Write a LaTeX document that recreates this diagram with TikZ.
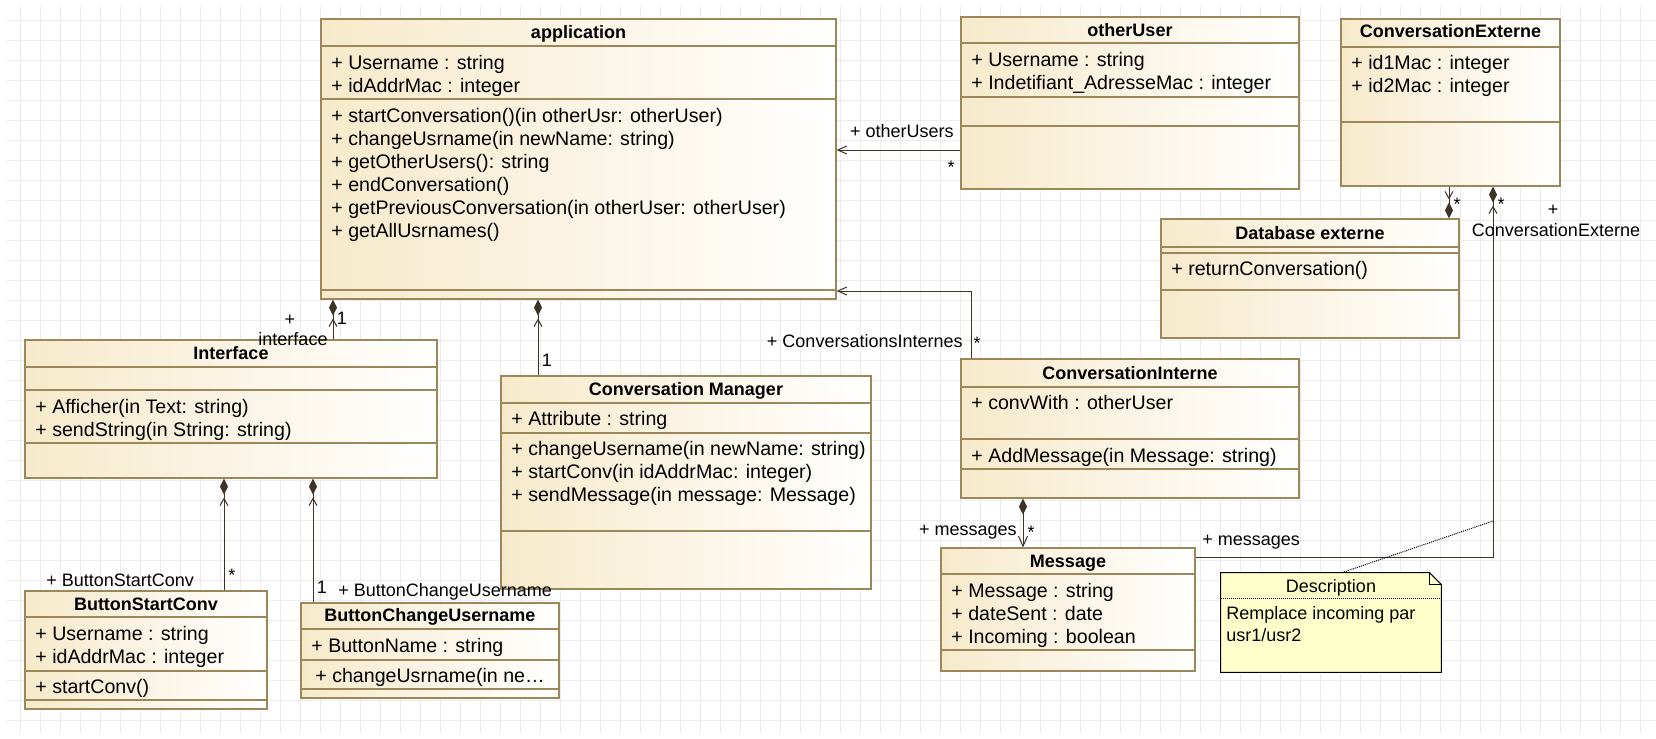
\documentclass[tikz,border=0pt]{standalone}
\usepackage{fontspec}
\setmainfont{Liberation Sans}
\usetikzlibrary{arrows.meta,fit}

\definecolor{clsfill}{HTML}{F7EACB}
\definecolor{clsline}{HTML}{9B8759}
\definecolor{linkcol}{HTML}{3D3427}
\definecolor{gridcol}{HTML}{ECECEC}
\definecolor{notefill}{HTML}{FFFFCC}

\newcommand{\memberfont}{\fontsize{9.8}{11.5}\selectfont}
\newcommand{\rolefont}{\fontsize{9}{11}\selectfont}
\newcommand{\clsfont}{\fontsize{9}{11}\selectfont\bfseries}

\begin{document}
\begin{tikzpicture}[x=0.5pt, y=-0.5pt,
    classbox/.style={draw=clsline, line width=0.6pt, left color=clsfill, right color=white, inner sep=0pt},
    sepline/.style={draw=clsline, line width=0.6pt},
    clstitle/.style={font=\clsfont, anchor=base, inner sep=0pt},
    member/.style={font=\memberfont, anchor=base west, inner sep=0pt},
    role/.style={font=\rolefont, inner sep=0pt},
    assoc/.style={draw=linkcol, line width=0.5pt},
    navi/.style={-{Straight Barb[length=4.5pt, width=4pt]}},
    compo/.style={-{Straight Barb[length=3.5pt, width=4pt, sep=1.5pt] Diamond[length=8pt, width=4pt]}},
    notebox/.style={draw=black, line width=0.5pt, fill=notefill},
]
    \useasboundingbox (0,0) rectangle (1656,739);
    \fill[white] (0,0) rectangle (1656,739);

    % Draw the grid
    \foreach \gx in {20,40,...,1640}
        \draw[gridcol, line width=0.5pt] (\gx,7) -- (\gx,733);
    \foreach \gy in {20,40,...,720}
        \draw[gridcol, line width=0.5pt] (7,\gy) -- (1656,\gy);

    % Class boxes
    \foreach \n/\xa/\ya/\xb/\yb in {app/321/19/836/299, other/961/17/1299/189, cext/1341/19/1560/186,
        db/1161/219/1459/338, iface/25/340/437/478, cm/501/376/871/589, convi/961/359/1299/498,
        msg/941/548/1195/671, bsc/25/591/267/709, bcu/301/603/559/698} {
        \node[classbox, fit={(\xa,\ya) (\xb,\yb)}] (\n) {};
    }
    % Compartment lines
    \foreach \n/\y in {app/46, app/99, app/290, other/43, other/97, other/126, cext/47, cext/122,
        db/247, db/253, db/290, iface/367, iface/390, iface/443, cm/403, cm/433, cm/531,
        convi/387, convi/439, convi/469, msg/574, msg/650, bsc/617, bsc/671, bsc/700,
        bcu/629, bcu/660, bcu/689} {
        \draw[sepline] (\n.west |- 0,\y) -- (\n.east |- 0,\y);
    }
    % Class names
    \foreach \n/\y/\txt in {app/39/application, other/36/otherUser, cext/38/ConversationExterne,
        db/239/Database externe, iface/359/Interface, cm/395/Conversation Manager,
        convi/379/ConversationInterne, msg/567/Message, bsc/610/ButtonStartConv,
        bcu/621/ButtonChangeUsername} {
        \node[clstitle] (\n-t) at (\n.north |- 0,\y) {\txt};
    }
    % Attributes and operations
    \foreach \x/\y/\txt [count=\i] in {331/69/+ Username : string, 331/92/+ idAddrMac : integer,
        331/122/+ startConversation()(in otherUsr: otherUser), 331/145/+ changeUsrname(in newName: string),
        331/168/+ getOtherUsers(): string, 331/191/+ endConversation(),
        331/214/+ getPreviousConversation(in otherUser: otherUser), 331/237/+ getAllUsrnames(),
        971/66/+ Username : string, 971/89/+ Indetifiant\_AdresseMac : integer,
        1351/69/+ id1Mac : integer, 1351/92/+ id2Mac : integer,
        1171/275/+ returnConversation(),
        35/413/+ Afficher(in Text: string), 35/436/+ sendString(in String: string),
        511/425/+ Attribute : string, 511/455/+ changeUsername(in newName: string),
        511/478/+ startConv(in idAddrMac: integer), 511/501/+ sendMessage(in message: Message),
        971/409/+ convWith : otherUser, 971/462/+ AddMessage(in Message: string),
        951/597/+ Message : string, 951/620/+ dateSent : date, 951/643/+ Incoming : boolean,
        35/640/+ Username : string, 35/663/+ idAddrMac : integer, 35/693/+ startConv(),
        311/652/+ ButtonName : string, 315/682/+ changeUsrname(in ne…} {
        \node[member] (mem\i) at (\x,\y) {\txt};
    }

    % Note
    \node[fit={(1221,573) (1441,672)}, inner sep=0pt] (note) {};
    \filldraw[notebox] (note.north west) -- ([xshift=-6pt]note.north east) -- ([yshift=-6pt]note.north east)
        -- (note.south east) -- (note.south west) -- cycle;
    \draw[line width=0.5pt] ([xshift=-6pt]note.north east) -- ([xshift=-6pt, yshift=-6pt]note.north east)
        -- ([yshift=-6pt]note.north east);
    \draw[line width=0.5pt, dash pattern=on 0.5pt off 0.5pt] (note.west |- 0,598) -- (note.east |- 0,598);
    \node[role, anchor=base] (note-t) at (note.north |- 0,592) {Description};
    \node[role, anchor=base west] (note-a) at (1226,619) {Remplace incoming par};
    \node[role, anchor=base west] (note-b) at (1226,641) {usr1/usr2};

    % Associations
    \coordinate (pin) at (1493,521);
    \draw[assoc, navi] (other.west |- 0,150) -- (app.east |- 0,150);
    \draw[assoc, compo] (iface.north -| 333,0) -- (app.south -| 333,0);
    \draw[assoc, compo] (cm.north -| 538,0) -- (app.south -| 538,0);
    \draw[assoc, navi] (convi.north -| 971,0) |- (app.east |- 0,291);
    \draw[assoc, compo] (bsc.north -| 224,0) -- (iface.south -| 224,0);
    \draw[assoc, compo] (bcu.north -| 313,0) -- (iface.south -| 313,0);
    \draw[assoc, {Diamond[length=8pt, width=4pt]}-{Straight Barb[length=5pt, width=4.5pt]}]
        (convi.south -| 1023,0) -- (msg.north -| 1023,0);
    \draw[assoc, compo] (msg.east |- 0,557) -| (cext.south -| 1493,0);
    \draw[assoc, compo] (cext.south -| 1449,0) -- (db.north -| 1449,0);
    \draw[line width=0.5pt, dash pattern=on 0.5pt off 0.5pt] (note.north -| 1342,0) -- (pin);

    % Role names and multiplicities
    \node[role, anchor=base east] (r-other) at (954,137) {+ otherUsers};
    \node[role, anchor=base] (m-other) at (951,173) {*};
    \node[role, anchor=base east] (r-convi) at (963,347) {+ ConversationsInternes};
    \node[role, anchor=base] (m-convi) at (977,349) {*};
    \node[role, anchor=base] (r-iface) at (290,325) {+};
    \node[role, anchor=base] (r-iface2) at (293,345) {interface};
    \node[role, anchor=base] (m-iface) at (342,324) {1};
    \node[role, anchor=base] (m-cm) at (547,366) {1};
    \node[role, anchor=base west] (r-bsc) at (46,586) {+ ButtonStartConv};
    \node[role, anchor=base] (m-bsc) at (232,581) {*};
    \node[role, anchor=base] (m-bcu) at (322,593) {1};
    \node[role, anchor=base west] (r-bcu) at (338,596) {+ ButtonChangeUsername};
    \node[role, anchor=base east] (r-msg) at (1017,535) {+ messages};
    \node[role, anchor=base] (m-msg) at (1031,538) {*};
    \node[role, anchor=base west] (r-msg2) at (1202,545) {+ messages};
    \node[role, anchor=base] (m-db) at (1457,210) {*};
    \node[role, anchor=base] (m-cext) at (1501,210) {*};
    \node[role, anchor=base] (r-cext) at (1553,215) {+};
    \node[role, anchor=base] (r-cext2) at (1556,236) {ConversationExterne};
\end{tikzpicture}
\end{document}
